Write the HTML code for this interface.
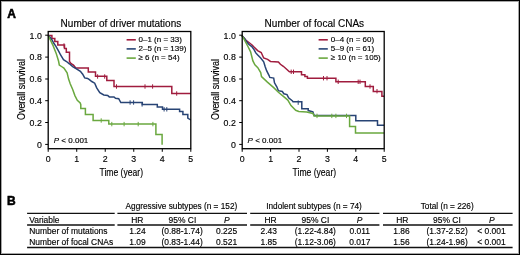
<!DOCTYPE html>
<html><head><meta charset="utf-8"><style>
html,body{margin:0;padding:0;background:#fff;}
#fig{position:relative;width:520px;height:255px;overflow:hidden;background:#fff;box-sizing:border-box;border:1px solid #000;box-shadow:inset 0 0 0 1px rgba(0,0,0,0.35);}
#fig svg{position:absolute;left:-1px;top:-1px;will-change:transform;}
text{font-family:"Liberation Sans",sans-serif;fill:#000;stroke:#000;stroke-width:0.15px;}
.t8{font-size:8px;}
.t8y{font-size:8.8px;}
.t10{font-size:10px;}
.tt{font-size:8.45px;}
.th{font-size:8.25px;}
.pl{font-size:12px;font-weight:bold;fill:#000;stroke-width:0.55px;}
</style></head><body><div id="fig"><svg width="520" height="255" viewBox="0 0 520 255">
<text x="7.2" y="17.7" class="pl">A</text>
<text x="7.0" y="205" class="pl">B</text>
<path d="M48.2,35.5 H51.9 V38.5 H54.8 V41.5 H57.8 V45 H64.5 V48.5 H66.3 V52.3 H69.5 V61.5 L71.1,63.6 L73.5,65.2 L75,66.8 L75.5,68 H88.3 V72.1 H95.5 V76.2 H106.8 V80.6 H114 V86.5 H171.8 V93.5 H190.8" fill="none" stroke="#a01c3e" stroke-width="1.5" stroke-linejoin="miter"/><line x1="64" y1="43.3" x2="64" y2="47.7" stroke="#a01c3e" stroke-width="1"/><line x1="97.6" y1="74.3" x2="97.6" y2="78.7" stroke="#a01c3e" stroke-width="1"/><line x1="104.7" y1="74.3" x2="104.7" y2="78.7" stroke="#a01c3e" stroke-width="1"/><line x1="116.5" y1="84.3" x2="116.5" y2="88.7" stroke="#a01c3e" stroke-width="1"/><line x1="145" y1="84.3" x2="145" y2="88.7" stroke="#a01c3e" stroke-width="1"/><line x1="152.6" y1="84.3" x2="152.6" y2="88.7" stroke="#a01c3e" stroke-width="1"/><line x1="176.7" y1="91.3" x2="176.7" y2="95.7" stroke="#a01c3e" stroke-width="1"/><path d="M48.2,35.3 L49.5,36.5 L52,40 L54,43.5 L55.8,46.2 L58.9,51.7 L60.6,55 L63.5,59.7 L66.5,61.5 L69.4,63.8 L72.7,66.6 L75.6,68.4 L80.4,71.3 L82.7,74.2 L84.7,77.9 L87.6,78.5 L89.4,79.7 L91.8,81.5 L94.7,83.2 L96.7,87.9 L99.8,92.6 L103.8,95 L107.7,95.4 L109.3,96.9 L114,97 L115.5,98.3 L118.7,98.7 L120.8,102.5 H142.3 V104.4 H157.3 V106.9 H162.5 V109.3 H179.6 V111.5 H182.9 V114.4 H187.8 V118 L190.8,120" fill="none" stroke="#284475" stroke-width="1.5" stroke-linejoin="miter"/><line x1="130.1" y1="100.3" x2="130.1" y2="104.7" stroke="#284475" stroke-width="1"/><line x1="133.6" y1="100.3" x2="133.6" y2="104.7" stroke="#284475" stroke-width="1"/><line x1="142.1" y1="102.2" x2="142.1" y2="106.60000000000001" stroke="#284475" stroke-width="1"/><line x1="164.1" y1="107.1" x2="164.1" y2="111.5" stroke="#284475" stroke-width="1"/><line x1="166.8" y1="107.1" x2="166.8" y2="111.5" stroke="#284475" stroke-width="1"/><path d="M48.2,35.5 L49.5,38.3 L53.1,45.6 L56.2,53.4 L58.6,61.3 L59.3,65 L61.5,66.5 L63.9,68.1 L67.1,72.8 L68.6,79.1 L70.2,83.8 L72.6,89.3 L74.9,95.6 L77.3,100.3 L80.2,103 L80.8,104.7 V108.4 H85.4 V114.6 H93.1 V120.5 H108.8 V124.1 H155.9 V134.4 H162.1 V144.7" fill="none" stroke="#6aa83f" stroke-width="1.5" stroke-linejoin="miter"/><line x1="101.2" y1="118.3" x2="101.2" y2="122.7" stroke="#6aa83f" stroke-width="1"/><line x1="111.8" y1="121.89999999999999" x2="111.8" y2="126.3" stroke="#6aa83f" stroke-width="1"/><line x1="124.1" y1="121.89999999999999" x2="124.1" y2="126.3" stroke="#6aa83f" stroke-width="1"/><line x1="138.2" y1="121.89999999999999" x2="138.2" y2="126.3" stroke="#6aa83f" stroke-width="1"/><line x1="152.9" y1="121.89999999999999" x2="152.9" y2="126.3" stroke="#6aa83f" stroke-width="1"/><path d="M241.8,35.5 L246,40.3 L248.3,42 L251.8,44.7 L254,47 L257.6,50.6 L261.2,52.5 L263.7,58 L267.6,59.4 L270.5,61.4 L278.4,61.9 L280.4,64.3 L283.3,66.3 L287.2,69.7 L289.4,71.8 H301.5 V74.7 H304.9 V76.5 H307.4 V78.2 H335.9 V81.8 H365.3 V86.5 H373.3 V91.5 H381.9 V96.2 H384" fill="none" stroke="#a01c3e" stroke-width="1.5" stroke-linejoin="miter"/><line x1="291.2" y1="69.6" x2="291.2" y2="74.0" stroke="#a01c3e" stroke-width="1"/><line x1="293.5" y1="69.6" x2="293.5" y2="74.0" stroke="#a01c3e" stroke-width="1"/><line x1="323.5" y1="76.0" x2="323.5" y2="80.4" stroke="#a01c3e" stroke-width="1"/><line x1="327" y1="76.0" x2="327" y2="80.4" stroke="#a01c3e" stroke-width="1"/><line x1="338.2" y1="79.6" x2="338.2" y2="84.0" stroke="#a01c3e" stroke-width="1"/><line x1="358.2" y1="79.6" x2="358.2" y2="84.0" stroke="#a01c3e" stroke-width="1"/><line x1="360" y1="79.6" x2="360" y2="84.0" stroke="#a01c3e" stroke-width="1"/><line x1="370" y1="84.3" x2="370" y2="88.7" stroke="#a01c3e" stroke-width="1"/><line x1="377" y1="89.0" x2="377" y2="93.4" stroke="#a01c3e" stroke-width="1"/><path d="M241.8,35.5 L244.5,38.5 L246.5,41.5 L248.7,44.3 L251.8,46.6 L254.2,49.8 L255.8,52.9 L257.5,54.8 L260.7,58 L263.7,61.9 L265.2,66.8 L266.6,70.7 L269.1,75.6 L269.8,77.4 L273.7,78.1 L274.5,82.8 L276.8,86.8 L278.4,90.7 L282.3,91.5 L283.9,93.8 L287,94.6 L288.6,97.8 L292.5,100.9 L293,101.8 H301.8 V108.8 H308.2 V110.6 L312.9,111.8 L314.1,115.5 H355.8 V120.8 H377.5 V125.2 H384" fill="none" stroke="#284475" stroke-width="1.5" stroke-linejoin="miter"/><line x1="298.2" y1="100.39999999999999" x2="298.2" y2="104.8" stroke="#284475" stroke-width="1"/><path d="M241.8,35.5 L243.9,38.9 L248.2,47 L250.6,51.8 L251.4,55 L252.9,60.9 L254.9,64.8 L257.8,67.7 L260.7,72.6 L261.5,76.6 L267.4,82.1 L273.7,87.6 L278.4,92.3 L283.1,96.2 L287.8,100.1 L291,105.6 L295.7,110.3 L298.8,111.4 L306.7,111.9 L313,113.5 L314.1,115.9 H349.6 V126.5 H355.5 V133 H384" fill="none" stroke="#6aa83f" stroke-width="1.5" stroke-linejoin="miter"/><line x1="317" y1="113.7" x2="317" y2="118.10000000000001" stroke="#6aa83f" stroke-width="1"/><line x1="331.8" y1="113.7" x2="331.8" y2="118.10000000000001" stroke="#6aa83f" stroke-width="1"/><line x1="335.9" y1="113.7" x2="335.9" y2="118.10000000000001" stroke="#6aa83f" stroke-width="1"/><line x1="346.5" y1="113.7" x2="346.5" y2="118.10000000000001" stroke="#6aa83f" stroke-width="1"/>
<rect x="48.2" y="31.5" width="142.60000000000002" height="117.2" fill="none" stroke="#000" stroke-width="1.3"/><line x1="45.2" y1="35.2" x2="48.2" y2="35.2" stroke="#000" stroke-width="1"/><text x="41.8" y="38.5" text-anchor="end" class="t8y">1.0</text><line x1="45.2" y1="57.1" x2="48.2" y2="57.1" stroke="#000" stroke-width="1"/><text x="41.8" y="60.4" text-anchor="end" class="t8y">0.8</text><line x1="45.2" y1="79.0" x2="48.2" y2="79.0" stroke="#000" stroke-width="1"/><text x="41.8" y="82.3" text-anchor="end" class="t8y">0.6</text><line x1="45.2" y1="100.7" x2="48.2" y2="100.7" stroke="#000" stroke-width="1"/><text x="41.8" y="104.0" text-anchor="end" class="t8y">0.4</text><line x1="45.2" y1="122.5" x2="48.2" y2="122.5" stroke="#000" stroke-width="1"/><text x="41.8" y="125.8" text-anchor="end" class="t8y">0.2</text><line x1="45.2" y1="144.4" x2="48.2" y2="144.4" stroke="#000" stroke-width="1"/><text x="41.8" y="147.70000000000002" text-anchor="end" class="t8y">0</text><line x1="48.2" y1="148.7" x2="48.2" y2="151.8" stroke="#000" stroke-width="1"/><text x="48.2" y="162.3" text-anchor="middle" class="t8y">0</text><line x1="76.72" y1="148.7" x2="76.72" y2="151.8" stroke="#000" stroke-width="1"/><text x="76.72" y="162.3" text-anchor="middle" class="t8y">1</text><line x1="105.24000000000001" y1="148.7" x2="105.24000000000001" y2="151.8" stroke="#000" stroke-width="1"/><text x="105.24000000000001" y="162.3" text-anchor="middle" class="t8y">2</text><line x1="133.76" y1="148.7" x2="133.76" y2="151.8" stroke="#000" stroke-width="1"/><text x="133.76" y="162.3" text-anchor="middle" class="t8y">3</text><line x1="162.28000000000003" y1="148.7" x2="162.28000000000003" y2="151.8" stroke="#000" stroke-width="1"/><text x="162.28000000000003" y="162.3" text-anchor="middle" class="t8y">4</text><line x1="190.8" y1="148.7" x2="190.8" y2="151.8" stroke="#000" stroke-width="1"/><text x="190.8" y="162.3" text-anchor="middle" class="t8y">5</text><text x="60.6" y="26.9" class="t10">Number of driver mutations</text><line x1="126.6" y1="39.8" x2="135.79999999999998" y2="39.8" stroke="#a01c3e" stroke-width="1.6"/><text x="138.5" y="42.0" class="t8">0–1 (n = 33)</text><line x1="126.6" y1="48.9" x2="135.79999999999998" y2="48.9" stroke="#284475" stroke-width="1.6"/><text x="138.5" y="51.1" class="t8">2–5 (n = 139)</text><line x1="126.6" y1="58.1" x2="135.79999999999998" y2="58.1" stroke="#6aa83f" stroke-width="1.6"/><text x="138.5" y="60.1" class="t8">≥ 6 (n = 54)</text><text x="53.8" y="142.6" class="t8"><tspan font-style="italic">P</tspan> &lt; 0.001</text><text x="99.5" y="176.2" class="t10" textLength="43.5" lengthAdjust="spacingAndGlyphs">Time (year)</text><text transform="translate(24.8,89.5) rotate(-90)" text-anchor="middle" class="t10" textLength="61" lengthAdjust="spacingAndGlyphs">Overall survival</text>
<rect x="242.2" y="31.5" width="142.0" height="117.2" fill="none" stroke="#000" stroke-width="1.3"/><line x1="239.2" y1="35.2" x2="242.2" y2="35.2" stroke="#000" stroke-width="1"/><text x="235.8" y="38.5" text-anchor="end" class="t8y">1.0</text><line x1="239.2" y1="57.1" x2="242.2" y2="57.1" stroke="#000" stroke-width="1"/><text x="235.8" y="60.4" text-anchor="end" class="t8y">0.8</text><line x1="239.2" y1="79.0" x2="242.2" y2="79.0" stroke="#000" stroke-width="1"/><text x="235.8" y="82.3" text-anchor="end" class="t8y">0.6</text><line x1="239.2" y1="100.7" x2="242.2" y2="100.7" stroke="#000" stroke-width="1"/><text x="235.8" y="104.0" text-anchor="end" class="t8y">0.4</text><line x1="239.2" y1="122.5" x2="242.2" y2="122.5" stroke="#000" stroke-width="1"/><text x="235.8" y="125.8" text-anchor="end" class="t8y">0.2</text><line x1="239.2" y1="144.4" x2="242.2" y2="144.4" stroke="#000" stroke-width="1"/><text x="235.8" y="147.70000000000002" text-anchor="end" class="t8y">0</text><line x1="242.2" y1="148.7" x2="242.2" y2="151.8" stroke="#000" stroke-width="1"/><text x="242.2" y="162.3" text-anchor="middle" class="t8y">0</text><line x1="270.59999999999997" y1="148.7" x2="270.59999999999997" y2="151.8" stroke="#000" stroke-width="1"/><text x="270.59999999999997" y="162.3" text-anchor="middle" class="t8y">1</text><line x1="299.0" y1="148.7" x2="299.0" y2="151.8" stroke="#000" stroke-width="1"/><text x="299.0" y="162.3" text-anchor="middle" class="t8y">2</text><line x1="327.4" y1="148.7" x2="327.4" y2="151.8" stroke="#000" stroke-width="1"/><text x="327.4" y="162.3" text-anchor="middle" class="t8y">3</text><line x1="355.79999999999995" y1="148.7" x2="355.79999999999995" y2="151.8" stroke="#000" stroke-width="1"/><text x="355.79999999999995" y="162.3" text-anchor="middle" class="t8y">4</text><line x1="384.2" y1="148.7" x2="384.2" y2="151.8" stroke="#000" stroke-width="1"/><text x="384.2" y="162.3" text-anchor="middle" class="t8y">5</text><text x="264.6" y="26.9" class="t10">Number of focal CNAs</text><line x1="318.6" y1="39.8" x2="327.8" y2="39.8" stroke="#a01c3e" stroke-width="1.6"/><text x="330.8" y="42.0" class="t8">0–4 (n = 60)</text><line x1="318.6" y1="48.9" x2="327.8" y2="48.9" stroke="#284475" stroke-width="1.6"/><text x="330.8" y="51.1" class="t8">5–9 (n = 61)</text><line x1="318.6" y1="58.1" x2="327.8" y2="58.1" stroke="#6aa83f" stroke-width="1.6"/><text x="330.8" y="60.1" class="t8">≥ 10 (n = 105)</text><text x="247.6" y="142.6" class="t8"><tspan font-style="italic">P</tspan> &lt; 0.001</text><text x="292.6" y="176.2" class="t10" textLength="43.5" lengthAdjust="spacingAndGlyphs">Time (year)</text><text transform="translate(219.3,89.5) rotate(-90)" text-anchor="middle" class="t10" textLength="61" lengthAdjust="spacingAndGlyphs">Overall survival</text>
<line x1="27.1" y1="213.3" x2="114.7" y2="213.3" stroke="#111" stroke-width="1.2"/><line x1="27.1" y1="225.1" x2="114.7" y2="225.1" stroke="#111" stroke-width="1.5"/><line x1="117.4" y1="213.3" x2="247" y2="213.3" stroke="#111" stroke-width="1.2"/><line x1="117.4" y1="225.1" x2="247" y2="225.1" stroke="#111" stroke-width="1.5"/><line x1="250.2" y1="213.3" x2="379.4" y2="213.3" stroke="#111" stroke-width="1.2"/><line x1="250.2" y1="225.1" x2="379.4" y2="225.1" stroke="#111" stroke-width="1.5"/><line x1="383" y1="213.3" x2="512.6" y2="213.3" stroke="#111" stroke-width="1.2"/><line x1="383" y1="225.1" x2="512.6" y2="225.1" stroke="#111" stroke-width="1.5"/><line x1="27.1" y1="247.4" x2="512.6" y2="247.4" stroke="#111" stroke-width="1.5"/><text x="181.4" y="209.4" text-anchor="middle" class="th">Aggressive subtypes (n = 152)</text><text x="314.0" y="209.4" text-anchor="middle" class="th">Indolent subtypes (n = 74)</text><text x="447.2" y="209.4" text-anchor="middle" class="th">Total (n = 226)</text><text x="29.2" y="222.6" text-anchor="start" class="tt">Variable</text><text x="137.3" y="222.6" text-anchor="middle" class="tt">HR</text><text x="182.4" y="222.6" text-anchor="middle" class="tt">95% CI</text><text x="226.9" y="222.6" text-anchor="middle" class="tt"><tspan font-style="italic">P</tspan></text><text x="270.5" y="222.6" text-anchor="middle" class="tt">HR</text><text x="315.4" y="222.6" text-anchor="middle" class="tt">95% CI</text><text x="359.6" y="222.6" text-anchor="middle" class="tt"><tspan font-style="italic">P</tspan></text><text x="402.3" y="222.6" text-anchor="middle" class="tt">HR</text><text x="446.9" y="222.6" text-anchor="middle" class="tt">95% CI</text><text x="491.7" y="222.6" text-anchor="middle" class="tt"><tspan font-style="italic">P</tspan></text><text x="29.2" y="234.1" text-anchor="start" class="tt">Number of mutations</text><text x="137.4" y="234.1" text-anchor="middle" class="tt">1.24</text><text x="182.1" y="234.1" text-anchor="middle" class="tt">(0.88-1.74)</text><text x="226.6" y="234.1" text-anchor="middle" class="tt">0.225</text><text x="268.8" y="234.1" text-anchor="middle" class="tt">2.43</text><text x="315.3" y="234.1" text-anchor="middle" class="tt">(1.22-4.84)</text><text x="359.8" y="234.1" text-anchor="middle" class="tt">0.011</text><text x="401.5" y="234.1" text-anchor="middle" class="tt">1.86</text><text x="447.1" y="234.1" text-anchor="middle" class="tt">(1.37-2.52)</text><text x="491.5" y="234.1" text-anchor="middle" class="tt">&lt; 0.001</text><text x="29.2" y="245.0" text-anchor="start" class="tt">Number of focal CNAs</text><text x="137.4" y="245.0" text-anchor="middle" class="tt">1.09</text><text x="182.1" y="245.0" text-anchor="middle" class="tt">(0.83-1.44)</text><text x="226.6" y="245.0" text-anchor="middle" class="tt">0.521</text><text x="268.8" y="245.0" text-anchor="middle" class="tt">1.85</text><text x="315.3" y="245.0" text-anchor="middle" class="tt">(1.12-3.06)</text><text x="359.8" y="245.0" text-anchor="middle" class="tt">0.017</text><text x="401.5" y="245.0" text-anchor="middle" class="tt">1.56</text><text x="447.1" y="245.0" text-anchor="middle" class="tt">(1.24-1.96)</text><text x="491.5" y="245.0" text-anchor="middle" class="tt">&lt; 0.001</text>
</svg></div></body></html>
